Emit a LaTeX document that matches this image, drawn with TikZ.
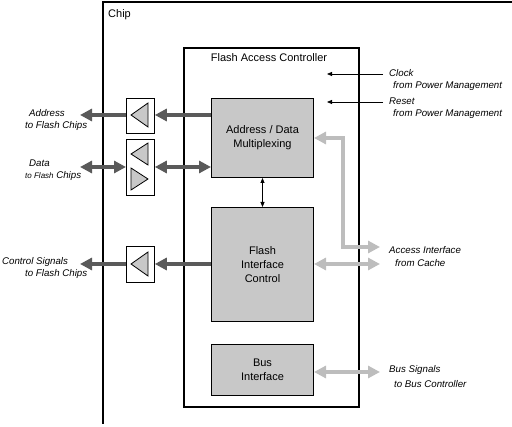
\documentclass[tikz,border=0pt]{standalone}
\usepackage{fontspec}
\setmainfont{Liberation Sans}
\usetikzlibrary{arrows.meta}
\definecolor{darkarr}{HTML}{5A5A5A}
\definecolor{lightarr}{HTML}{BDBDBD}
\definecolor{blockfill}{HTML}{C8C8C8}
\tikzset{
  block/.style={draw=black, line width=1pt, fill=blockfill, anchor=north west, inner sep=0pt, align=center, font=\fontsize{11}{14}\selectfont},
  bufbox/.style={draw=black, line width=0.8pt, fill=white, anchor=north west, inner sep=0pt},
  tri/.style={draw=black, line width=0.8pt, fill=blockfill},
  darrow/.style={draw=darkarr, line width=4pt, -{Triangle[length=12pt,width=12pt]}},
  darrowboth/.style={draw=darkarr, line width=4pt, {Triangle[length=12pt,width=12pt]}-{Triangle[length=12pt,width=12pt]}},
  larrow/.style={draw=lightarr, line width=4pt, -{Triangle[length=12pt,width=12pt]}},
  larrowboth/.style={draw=lightarr, line width=4pt, {Triangle[length=12pt,width=12pt]}-{Triangle[length=12pt,width=12pt]}},
  thinarr/.style={draw=black, line width=0.8pt, -{Triangle[length=5pt,width=4pt]}},
  thinboth/.style={draw=black, line width=0.8pt, {Triangle[length=5pt,width=4pt]}-{Triangle[length=5pt,width=4pt]}},
  lbl/.style={anchor=west, inner sep=0pt, font=\fontsize{9.7}{11}\selectfont\itshape},
  title/.style={inner sep=0pt, font=\fontsize{11}{13}\selectfont}
}
\begin{document}
\begin{tikzpicture}[x=1pt,y=-1pt]
\useasboundingbox (0,0) rectangle (512,427);
% chip outline
\draw[line width=2pt] (103,424) -- (103,2) -- (512,2);
\node[title, anchor=west] (chip) at (108,15) {Chip};
% flash access controller
\node[draw=black, line width=2pt, anchor=north west, minimum width=175pt, minimum height=359pt, inner sep=0pt] (fac) at (183,47) {};
\node[title] (factitle) at (269,58) {Flash Access Controller};
% blocks
\node[block, minimum width=102pt, minimum height=79pt] (adm) at (211,98) {Address / Data\\Multiplexing};
\node[block, minimum width=102pt, minimum height=114pt] (fic) at (211,207) {Flash\\Interface\\Control};
\node[block, minimum width=102pt, minimum height=51pt] (bus) at (211,344) {Bus\\Interface};
% buffer boxes
\node[bufbox, minimum width=28pt, minimum height=35pt] (abuf) at (126,98) {};
\node[bufbox, minimum width=28pt, minimum height=56pt] (dbuf) at (126,139) {};
\node[bufbox, minimum width=28pt, minimum height=36pt] (cbuf) at (126,246) {};
% triangles
\draw[tri] (131,115) -- (148,103) -- (148,127) -- cycle;
\draw[tri] (131,154) -- (148,143) -- (148,165) -- cycle;
\draw[tri] (148,179) -- (131,168) -- (131,190) -- cycle;
\draw[tri] (131,264) -- (148,252) -- (148,276) -- cycle;
% coordinates
\coordinate (aout) at (80,115);
\coordinate (dout) at (80,167);
\coordinate (cout) at (80,264);
\coordinate (clk) at (383,74);
\coordinate (rst) at (383,102);
\coordinate (acc) at (380,247);
\coordinate (acc2) at (380,264);
\coordinate (busout) at (380,372);
\coordinate (bend) at (343,138);
% dark arrows
\draw[darrow] (adm.west |- aout) -- (abuf.east |- aout);
\draw[darrow] (abuf.west |- aout) -- (aout);
\draw[darrowboth] (adm.west |- dout) -- (dbuf.east |- dout);
\draw[darrowboth] (dbuf.west |- dout) -- (dout);
\draw[darrow] (fic.west |- cout) -- (cbuf.east |- cout);
\draw[darrow] (cbuf.west |- cout) -- (cout);
% light arrows
\draw[larrowboth, line join=miter] (adm.east |- bend) -- (bend) |- (acc);
\draw[larrowboth] (fic.east |- acc2) -- (acc2);
\draw[larrowboth] (bus.east |- busout) -- (busout);
% thin arrows
\draw[thinarr] (clk) -- (327,74);
\draw[thinarr] (rst) -- (327,102);
\draw[thinboth] (adm.south) -- (fic.north);
% right labels
\node[lbl] (clk1) at (389,73) {Clock};
\node[lbl] (clk2) at (393,86) {from Power Management};
\node[lbl] (rst1) at (389,101) {Reset};
\node[lbl] (rst2) at (393,114) {from Power Management};
\node[lbl] (acc1) at (389,250) {Access Interface};
\node[lbl] (acc3) at (395,263) {from Cache};
\node[lbl] (bus1) at (389,370) {Bus Signals};
\node[lbl] (bus2) at (394,384) {to Bus Controller};
% left labels
\node[lbl] (ad1) at (29,113) {Address};
\node[lbl] (ad2) at (25,126) {to Flash Chips};
\node[lbl] (da1) at (29,163) {Data};
\node[lbl] (da2) at (25,176) {{\fontsize{8}{9}\selectfont to Flash} Chips};
\node[lbl] (co1) at (2,262) {Control Signals};
\node[lbl] (co2) at (25,274) {to Flash Chips};
\end{tikzpicture}
\end{document}
